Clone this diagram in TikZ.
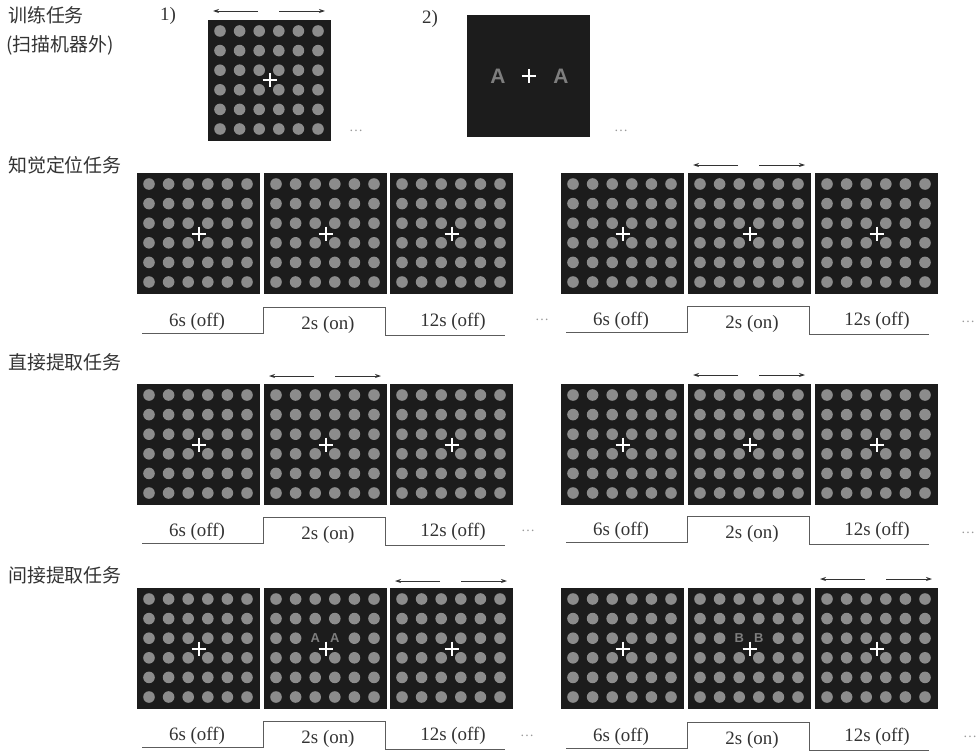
\documentclass[tikz,border=0pt]{standalone}
\usepackage{fontspec}
\setmainfont{Liberation Serif}
\setsansfont{Liberation Sans}
\newfontfamily\cjk{Noto Sans CJK SC}
\usepackage{tikz}
\usetikzlibrary{arrows.meta}
\definecolor{panelgray}{HTML}{1C1C1C}
\definecolor{dotgray}{HTML}{8C8C8C}
\definecolor{inkgray}{HTML}{333333}

% stimulus panel: name, left x, top y
\newcommand{\dotpanel}[3]{%
  \node[panel] (#1) at (#2+61.5,#3+60.5) {};
  \foreach \i in {0,...,5}
    \foreach \j in {0,...,5}
      {\fill[dotgray] (#2+12+19.6*\i,#3+11+19.6*\j) circle (5.8bp);}
  \draw[fixcross] (#1.center) +(-7,0) -- +(7,0) +(0,-7) -- +(0,7);
}
% two letters in place of the two dots left/right above the cross
\newcommand{\letterpair}[3]{%
  \fill[panelgray] (#1+51.2,#2+50.2) circle (7bp) (#1+70.8,#2+50.2) circle (7bp);
  \node[smallletter] at (#1+51.2,#2+50.2) {#3};
  \node[smallletter] at (#1+70.8,#2+50.2) {#3};
}
% left/right arrows above a panel
\newcommand{\dirarrows}[2]{%
  \draw[dirarrow] (#1+50,#2) -- (#1+5,#2);
  \draw[dirarrow] (#1+71,#2) -- (#1+117,#2);
}
% on/off time course under a group of three panels
\newcommand{\timecourse}[3]{%
  \draw[timeline] (#1+5,#2+26) -- (#1+126,#2+26) -- (#1+126,#2) -- (#1+248,#2)
    -- (#1+248,#2+28) -- (#1+368,#2+28);
  \node[timelabel] (#3off) at (#1+60,#2+15) {6s (off)};
  \node[timelabel] (#3on)  at (#1+191,#2+18) {2s (on)};
  \node[timelabel] (#3rest) at (#1+316,#2+15) {12s (off)};
}

\begin{document}
\begin{tikzpicture}[x=1bp,y=-1bp,
        panel/.style={rectangle,fill=panelgray,inner sep=0pt,
                      minimum width=123bp,minimum height=121bp},
        fixcross/.style={white,line width=2bp},
        dirarrow/.style={inkgray,line width=0.8bp,-{Stealth[length=6bp,width=4bp]}},
        timeline/.style={inkgray!80,line width=0.8bp},
        timelabel/.style={text=inkgray,font=\fontsize{19}{22}\selectfont},
        tasklabel/.style={text=inkgray,anchor=west,inner sep=0pt,
                          font=\cjk\fontsize{19}{22}\selectfont},
        smallletter/.style={text=dotgray!90!black,inner sep=0pt,
                            font=\sffamily\bfseries\fontsize{13}{13}\selectfont},
        moredots/.style={text=inkgray!50,font=\fontsize{14}{14}\selectfont}]
  \useasboundingbox (0,0) rectangle (976,754);

  % training (outside the scanner)
  \node[tasklabel] (train)  at (8,15) {训练任务};
  \node[tasklabel] (trainx) at (6,45) {(扫描机器外)};
  \node[timelabel] (one) at (168,16) {1)};
  \node[timelabel] (two) at (430,19) {2)};
  \dotpanel{tA}{208}{20}
  \dirarrows{208}{11}
  \node[moredots] (tAmore) at (356,131) {\dots};
  \node[panel] (tB) at (528.5,76) {};
  \node[smallletter,font=\sffamily\bfseries\fontsize{21}{21}\selectfont] (tBa) at (498,76) {A};
  \node[smallletter,font=\sffamily\bfseries\fontsize{21}{21}\selectfont] (tBb) at (561,76) {A};
  \draw[fixcross] (tB.center) +(-7,0) -- +(7,0) +(0,-7) -- +(0,7);
  \node[moredots] (tBmore) at (621,131) {\dots};

  % perceptual localisation
  \node[tasklabel] (perc) at (8,165) {知觉定位任务};
  \foreach \n/\x in {1/137,2/264,3/390,4/561,5/688,6/815}
    {\dotpanel{pc\n}{\x}{173}}
  \dirarrows{688}{165}
  \timecourse{137}{307}{pcl}
  \timecourse{561}{306}{pcr}
  \node[moredots] (pcmore1) at (542,320) {\dots};
  \node[moredots] (pcmore2) at (968,322) {\dots};

  % direct retrieval
  \node[tasklabel] (direct) at (8,362) {直接提取任务};
  \foreach \n/\x in {1/137,2/264,3/390,4/561,5/688,6/815}
    {\dotpanel{dr\n}{\x}{384}}
  \dirarrows{264}{376}
  \dirarrows{688}{375}
  \timecourse{137}{517}{drl}
  \timecourse{561}{516}{drr}
  \node[moredots] (drmore1) at (528,531) {\dots};
  \node[moredots] (drmore2) at (968,533) {\dots};

  % indirect retrieval
  \node[tasklabel] (indirect) at (8,575) {间接提取任务};
  \foreach \n/\x in {1/137,2/264,3/390,4/561,5/688,6/815}
    {\dotpanel{ir\n}{\x}{588}}
  \letterpair{264}{588}{A}
  \letterpair{688}{588}{B}
  \draw[fixcross] (ir2.center) +(-7,0) -- +(7,0) +(0,-7) -- +(0,7);
  \draw[fixcross] (ir5.center) +(-7,0) -- +(7,0) +(0,-7) -- +(0,7);
  \dirarrows{390}{581}
  \dirarrows{815}{579}
  \timecourse{137}{721}{irl}
  \timecourse{561}{722}{irr}
  \node[moredots] (irmore1) at (527,736) {\dots};
  \node[moredots] (irmore2) at (970,737) {\dots};
\end{tikzpicture}
\end{document}
